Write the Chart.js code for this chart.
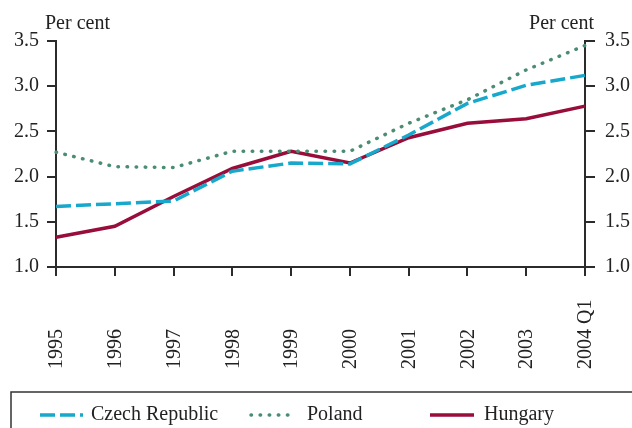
<!DOCTYPE html>
<html lang="en">
<head>
    <meta charset="UTF-8">
    <title>Per cent chart</title>
    <script src="https://cdn.jsdelivr.net/npm/chart.js"></script>
    <style>
        html, body { margin: 0; padding: 0; background: #fff; }
        #wrap { width: 632px; height: 428px; }
    </style>
</head>
<body>
    <div id="wrap"><canvas id="chart" width="632" height="428"></canvas></div>
    <script>
        const years = ['1995', '1996', '1997', '1998', '1999', '2000', '2001', '2002', '2003', '2004 Q1'];
        const czech   = [1.67, 1.70, 1.73, 2.06, 2.15, 2.14, 2.46, 2.81, 3.01, 3.12];
        const poland  = [2.27, 2.11, 2.10, 2.28, 2.28, 2.28, 2.59, 2.85, 3.18, 3.45];
        const hungary = [1.33, 1.45, 1.78, 2.09, 2.28, 2.15, 2.43, 2.59, 2.64, 2.78];
        const yTicks  = [1.0, 1.5, 2.0, 2.5, 3.0, 3.5];

        const FONT = "'Liberation Serif', 'Times New Roman', serif";
        const TEXT = '#222';
        const AXIS = '#2b2b2b';

        // extra text + legend box drawn on the canvas
        const extras = {
            id: 'extras',
            afterDraw(chart) {
                const ctx = chart.ctx;
                const x = chart.scales.x;
                ctx.save();
                ctx.fillStyle = TEXT;
                ctx.font = '20px ' + FONT;

                // unit labels
                ctx.textBaseline = 'alphabetic';
                ctx.textAlign = 'left';
                ctx.fillText('Per cent', 45, 29);
                ctx.textAlign = 'right';
                ctx.fillText('Per cent', 594, 29);

                // rotated category labels, text starts at the bottom
                years.forEach((lab, i) => {
                    ctx.save();
                    ctx.translate(x.getPixelForValue(i), 369);
                    ctx.rotate(-Math.PI / 2);
                    ctx.textAlign = 'left';
                    ctx.textBaseline = 'middle';
                    ctx.fillText(lab, 0, 1);
                    ctx.restore();
                });

                // legend box
                ctx.strokeStyle = '#333';
                ctx.lineWidth = 1.5;
                ctx.beginPath();
                ctx.moveTo(11, 440);
                ctx.lineTo(11, 392);
                ctx.lineTo(640, 392);
                ctx.stroke();

                const items = [
                    { ds: 0, x1: 40, x2: 83, tx: 91 },
                    { ds: 1, x1: 251, x2: 292, tx: 307 },
                    { ds: 2, x1: 430, x2: 474, tx: 484 }
                ];
                items.forEach(it => {
                    const ds = chart.data.datasets[it.ds];
                    ctx.save();
                    ctx.strokeStyle = ds.borderColor;
                    ctx.lineWidth = ds.borderWidth;
                    ctx.lineCap = ds.borderCapStyle || 'butt';
                    ctx.setLineDash(ds.borderDash || []);
                    ctx.beginPath();
                    ctx.moveTo(it.x1, 415);
                    ctx.lineTo(it.x2, 415);
                    ctx.stroke();
                    ctx.restore();
                    ctx.textAlign = 'left';
                    ctx.textBaseline = 'middle';
                    ctx.fillText(ds.label, it.tx, 415);
                });
                ctx.restore();
            }
        };

        const yAxis = (pos, width, tickLen, pad) => ({
            type: 'linear',
            position: pos,
            min: 1.0,
            max: 3.5,
            afterBuildTicks: s => { s.ticks = yTicks.map(v => ({ value: v })); },
            afterFit: s => { s.width = width; },
            border: { display: true, color: AXIS, width: 2 },
            grid: { drawOnChartArea: false, drawTicks: true, tickLength: tickLen, color: AXIS, lineWidth: 2 },
            ticks: {
                padding: pad,
                color: TEXT,
                font: { family: FONT, size: 20 },
                callback: v => Number(v).toFixed(1)
            }
        });

        new Chart(document.getElementById('chart'), {
            type: 'line',
            data: {
                labels: years,
                datasets: [
                    {
                        label: 'Czech Republic',
                        data: czech,
                        borderColor: '#17a8cb',
                        borderWidth: 3.5,
                        borderDash: [15, 5],
                        yAxisID: 'y'
                    },
                    {
                        label: 'Poland',
                        data: poland,
                        borderColor: '#4a8d72',
                        borderWidth: 3.5,
                        borderDash: [0.5, 8.6],
                        borderCapStyle: 'round',
                        yAxisID: 'y'
                    },
                    {
                        label: 'Hungary',
                        data: hungary,
                        borderColor: '#980d3a',
                        borderWidth: 3.5,
                        yAxisID: 'y'
                    }
                ]
            },
            options: {
                responsive: false,
                animation: false,
                devicePixelRatio: 1,
                layout: { padding: { top: 41, left: 0, right: 0, bottom: 0 } },
                elements: { point: { radius: 0 }, line: { tension: 0 } },
                plugins: { legend: { display: false }, tooltip: { enabled: false } },
                scales: {
                    x: {
                        offset: false,
                        afterFit: s => { s.height = 161; },
                        border: { display: true, color: AXIS, width: 2 },
                        grid: { drawOnChartArea: false, drawTicks: true, tickLength: 9, color: AXIS, lineWidth: 2, offset: false },
                        ticks: { display: false }
                    },
                    y: yAxis('left', 56, 9, 8),
                    y2: yAxis('right', 47, 10, 10)
                }
            },
            plugins: [extras]
        });
    </script>
</body>
</html>
